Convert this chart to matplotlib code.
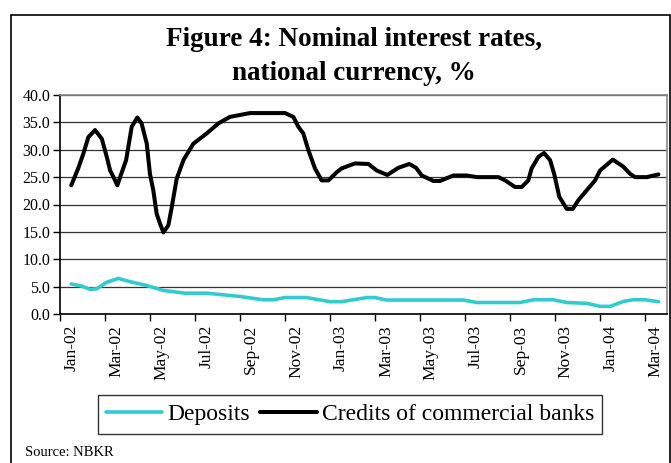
import matplotlib
matplotlib.use("Agg")
import matplotlib.pyplot as plt
from matplotlib.patches import Rectangle

plt.rcParams['font.family'] = ['Liberation Serif', 'DejaVu Serif']

# x positions are months since Jan-02
credit_months = [0.0, 0.31, 0.54, 0.76, 1.06, 1.36, 1.58, 1.73, 1.88, 2.05, 2.2, 2.44,
                 2.69, 2.94, 3.13, 3.36, 3.5, 3.65, 3.8, 3.95, 4.1, 4.32, 4.47, 4.69,
                 4.99, 5.43, 6.03, 6.54, 7.06, 7.95, 9.51, 9.88, 10.1, 10.32, 10.55,
                 10.84, 11.14, 11.44, 11.81, 12.03, 12.62, 13.22, 13.59, 14.06, 14.55,
                 15.04, 15.34, 15.59, 16.11, 16.4, 17.0, 17.59, 18.04, 19.0, 19.3,
                 19.74, 20.04, 20.33, 20.48, 20.78, 21.03, 21.3, 21.48, 21.71, 22.04,
                 22.31, 22.56, 22.93, 23.3, 23.52, 24.09, 24.56, 24.86, 25.08, 25.6,
                 26.12]
credits = [23.5, 26.6, 29.3, 32.3, 33.6, 32.0, 28.7, 26.2, 25.0, 23.5, 25.3, 28.1,
           34.2, 35.9, 34.8, 31.1, 25.6, 22.6, 18.3, 16.5, 14.9, 16.2, 19.5, 24.7,
           28.1, 31.1, 33.0, 34.8, 36.0, 36.7, 36.7, 36.0, 34.2, 33.0, 29.9,
           26.6, 24.4, 24.4, 25.9, 26.6, 27.5, 27.4, 26.2, 25.4, 26.7,
           27.4, 26.7, 25.3, 24.3, 24.3, 25.3, 25.3, 25.0, 25.0, 24.4,
           23.2, 23.2, 24.4, 26.6, 28.7, 29.4, 28.1, 25.6, 21.4, 19.2,
           19.2, 20.8, 22.6, 24.4, 26.2, 28.2, 26.9, 25.6, 25.0, 25.0,
           25.5]

deposit_months = [0.0, 0.47, 0.84, 1.13, 1.58, 2.1, 2.62, 3.36, 4.1, 5.07, 6.03, 7.51,
                  8.54, 8.99, 9.51, 10.47, 11.51, 12.03, 13.14, 13.51, 14.03, 17.44,
                  18.04, 19.96, 20.56, 21.45, 22.04, 22.93, 23.52, 23.97, 24.56, 25.0,
                  25.52, 26.12]
deposits = [5.5, 5.1, 4.5, 4.6, 5.8, 6.5, 5.9, 5.2, 4.3, 3.8, 3.8, 3.2,
            2.6, 2.6, 3.0, 3.0, 2.25, 2.25, 3.0, 3.0, 2.55, 2.55,
            2.1, 2.1, 2.6, 2.6, 2.1, 1.95, 1.4, 1.4, 2.3, 2.6,
            2.6, 2.25]

tick_labels = ['Jan-02', 'Mar-02', 'May-02', 'Jul-02', 'Sep-02', 'Nov-02', 'Jan-03',
               'Mar-03', 'May-03', 'Jul-03', 'Sep-03', 'Nov-03', 'Jan-04', 'Mar-04']

W, H = 671, 463
fig = plt.figure(figsize=(W / 100, H / 100), dpi=100)

# outer frame of the figure
fig.patches.append(Rectangle((10.5 / W, -0.01), (W - 12) / W, 1 - 15 / H + 0.01,
                             transform=fig.transFigure, fill=False,
                             edgecolor='black', linewidth=1.2))

ax = fig.add_axes([60 / W, 1 - 314 / H, 607 / W, 219 / H])

ax.plot(deposit_months, deposits, color='#33CCCC', linewidth=2.6, label='Deposits',
        solid_joinstyle='round', solid_capstyle='round')
ax.plot(credit_months, credits, color='black', linewidth=2.9,
        label='Credits of commercial banks', solid_joinstyle='round', solid_capstyle='round')

ax.set_xlim(-0.5, 26.5)
ax.set_ylim(0, 40)

ax.set_yticks(range(0, 41, 5))
ax.set_yticklabels(['%.1f' % v for v in range(0, 41, 5)], fontsize=11.5)
ax.yaxis.grid(True, color='#333333', linewidth=0.9)
ax.set_axisbelow(True)

# tick marks between category groups, labels on the months
ax.set_xticks([m + 1.5 for m in range(-2, 26, 2)])
ax.set_xticklabels([])
ax.set_xticks(list(range(0, 27, 2)), minor=True)
ax.set_xticklabels(tick_labels, minor=True, rotation=90, fontsize=12.5)
ax.tick_params(axis='x', which='minor', length=0, pad=8)
ax.tick_params(axis='x', which='major', length=5, width=1, direction='out')
ax.tick_params(axis='y', length=5, width=1, direction='out', pad=2)

for side in ['top', 'right']:
    ax.spines[side].set_color('#888888')
    ax.spines[side].set_linewidth(1.2)
for side in ['left', 'bottom']:
    ax.spines[side].set_color('black')
    ax.spines[side].set_linewidth(1.2)

fig.text(354 / W, 1 - 39 / H, 'Figure 4: Nominal interest rates,', ha='center', va='center',
         fontsize=19.5, fontweight='bold')
fig.text(354 / W, 1 - 73 / H, 'national currency, %', ha='center', va='center',
         fontsize=19.5, fontweight='bold')

leg = fig.legend(loc='center', bbox_to_anchor=(350 / W, 1 - 414.5 / H), ncol=2,
                 fontsize=17, frameon=True, fancybox=False, handlelength=2.4,
                 handletextpad=0.2, columnspacing=0.45, borderpad=0.35,
                 borderaxespad=0)
leg.get_frame().set_edgecolor('black')
leg.get_frame().set_linewidth(1.0)

fig.text(25 / W, 1 - 452 / H, 'Source: NBKR', ha='left', va='center', fontsize=10.5)

fig.savefig('out.png', dpi=100)
